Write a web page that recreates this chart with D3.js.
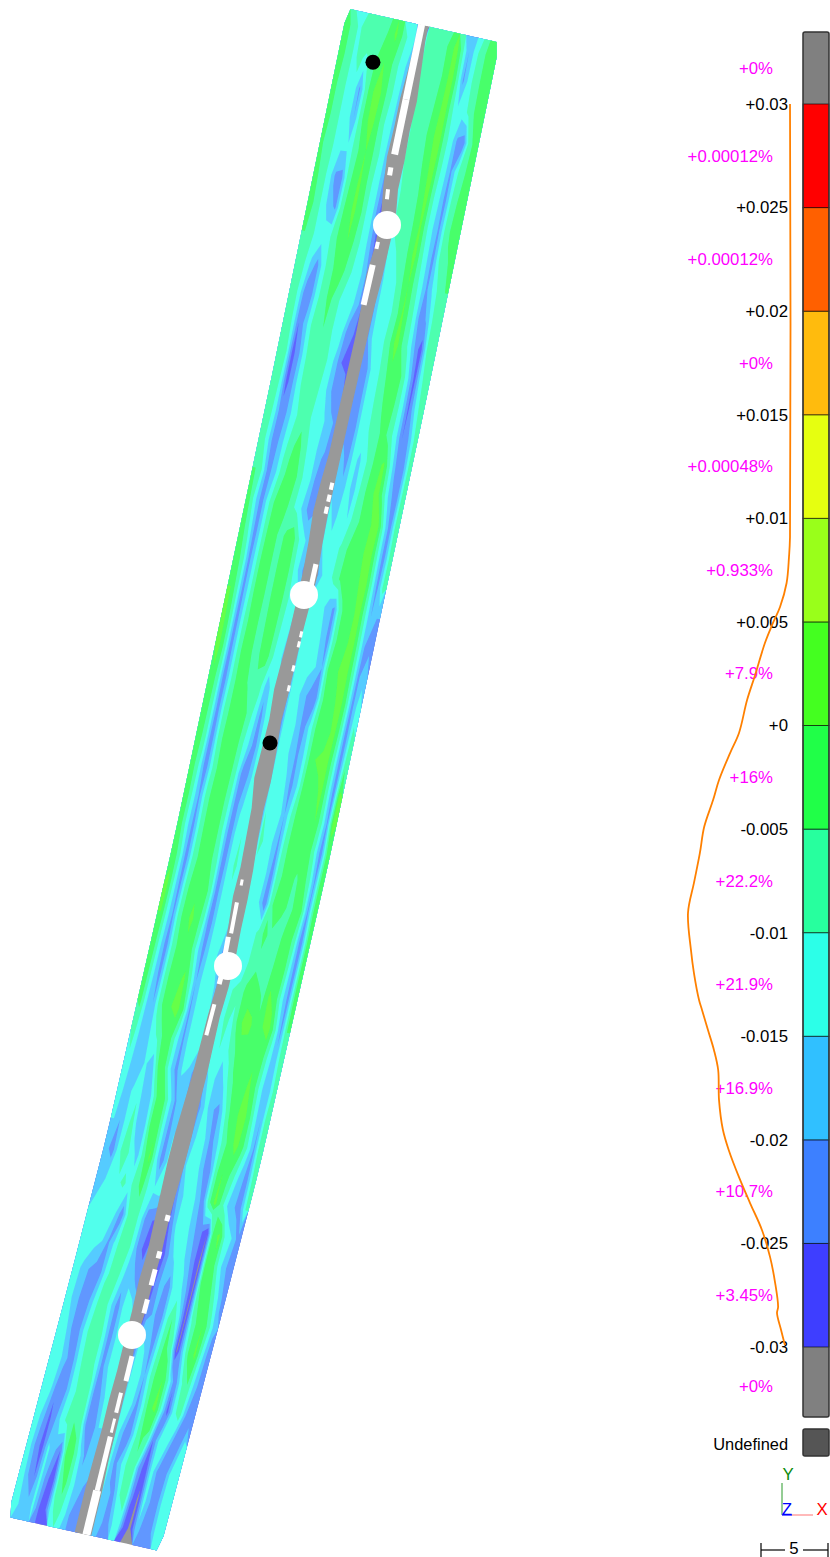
<!DOCTYPE html>
<html>
<head>
<meta charset="utf-8">
<script src="https://cdn.jsdelivr.net/npm/d3@7"></script>
<style>
  body { margin: 0; background: #fff; }
  text { font-family: "Liberation Sans", Arial, sans-serif; font-size: 16.8px; }
</style>
</head>
<body>
<script>
// Colour bar: deviation band edges (bottom to top) and the fill of every band
const tickValues = [0.03, 0.025, 0.02, 0.015, 0.01, 0.005, 0, -0.005, -0.01, -0.015, -0.02, -0.025, -0.03];
const tickLabels = ["+0.03", "+0.025", "+0.02", "+0.015", "+0.01", "+0.005", "+0", "-0.005", "-0.01", "-0.015", "-0.02", "-0.025", "-0.03"];
const bandColors = ["#3e3eff", "#3d80ff", "#30c0ff", "#2cffe8", "#27ff9e", "#20ff48", "#44ff20", "#99ff1a", "#e6ff10", "#ffbb0d", "#ff6000", "#ff0000"];
const outOfRangeColor = "#808080";
const undefinedColor = "#555555";

// Share of points per band, top to bottom, including both outer grey bands
const bandPercents = ["+0%", "+0.00012%", "+0.00012%", "+0%", "+0.00048%", "+0.933%", "+7.9%", "+16%", "+22.2%", "+21.9%", "+16.9%", "+10.7%", "+3.45%", "+0%"];

// Distribution curve next to the bar: deviation (x 0.001) and density (%)
const curveDeviation = [30, 9.1, 8.13, 6.88, 5.72, 4.95, 3.98, 2.44, 1.23, -0.36, -1.33, -2.63, -3.6, -4.9, -6.15, -7.6, -9.05, -10.84, -11.95, -13.25, -13.73, -14.7, -15.66, -16.63, -18.08, -19.5, -20.5, -21.8, -23.05, -24.35, -25.65, -26.9, -28.07, -28.36, -29.18, -29.9];
const curveDensity = [0, 0, 0.24, 0.8, 2.35, 4, 5.9, 8.2, 10.1, 12, 14.1, 16.7, 18.1, 20.2, 21.2, 22.6, 24, 23.3, 22.6, 21.4, 20.7, 19.3, 17.9, 16.9, 16.7, 15.8, 14.4, 12, 9.4, 6.6, 4.7, 3.5, 2.8, 3.06, 2.1, 1.2];

// Deviation over the strip (x 0.001), one row per station, left edge to right edge
const stripUpper = [
  [-3,-7,-11,-8,-6,-9,-8,-3,1,-5,-11,-14,-31,-8,-6,-5,-7,-2,2,-9,-20,-13,-7,-4,-2],
  [-3,-7,-11,-9,-11,-8,-3,0,-3,-9,-12,-18,-31,-9,-7,-6,-7,-3,3,-7,-21,-12,-7,-4,-3],
  [-4,-8,-11,-11,-21,-8,-1,3,-3,-9,-12,-21,-31,-10,-8,-6,-6,-2,3,-8,-14,-13,-8,-4,-3],
  [-4,-8,-11,-12,-20,-8,-1,2,-4,-10,-13,-22,-31,-11,-8,-6,-5,-1,4,-8,-12,-21,-24,-7,-3],
  [-5,-8,-11,-14,-14,-9,-4,0,-4,-9,-14,-22,-31,-11,-8,-7,-6,-2,3,-8,-13,-21,-11,-6,-3],
  [-4,-8,-12,-21,-22,-8,-3,1,-4,-10,-14,-23,-31,-13,-9,-8,-8,-3,2,-9,-14,-22,-10,-5,-3],
  [-3,-8,-12,-18,-21,-7,-2,1,-3,-10,-14,-24,-31,-15,-9,-8,-8,-4,1,-9,-15,-21,-9,-4,-3],
  [-5,-9,-11,-12,-11,-6,-2,0,-5,-10,-14,-22,-31,-21,-12,-10,-9,-4,2,-8,-14,-22,-10,-6,-4],
  [-6,-10,-16,-22,-12,-7,-4,-2,-8,-11,-13,-20,-31,-22,-14,-12,-10,-5,0,-7,-13,-21,-14,-8,-5],
  [-7,-11,-23,-22,-11,-8,-3,-8,-11,-12,-15,-21,-31,-24,-14,-12,-11,-7,1,-6,-12,-24,-19,-9,-6],
  [-6,-11,-25,-18,-10,-8,-5,-9,-11,-13,-23,-25,-31,-23,-15,-13,-10,-5,3,-6,-11,-20,-28,-10,-6],
  [-6,-10,-27,-21,-11,-7,-6,-8,-11,-17,-25,-26,-31,-22,-23,-13,-11,-7,-2,0,-6,-15,-27,-12,-6],
  [-6,-11,-27,-20,-11,-8,-7,-9,-12,-18,-24,-23,-31,-25,-23,-13,-11,-8,-4,-1,-7,-14,-26,-15,-7],
  [-6,-12,-23,-20,-13,-9,-7,-10,-12,-14,-18,-21,-31,-23,-24,-13,-12,-8,-6,-3,-8,-14,-25,-20,-9],
  [-6,-14,-24,-18,-11,-6,-3,-8,-13,-15,-19,-22,-31,-18,-22,-13,-16,-11,-6,-2,1,-10,-21,-24,-9],
  [-5,-10,-22,-18,-9,-4,-2,-6,-12,-15,-23,-21,-31,-16,-19,-13,-17,-10,-5,-1,2,-8,-18,-24,-8],
  [-4,-14,-23,-12,-5,-3,-3,-9,-12,-18,-23,-20,-31,-14,-16,-13,-15,-8,-5,-3,0,3,-11,-23,-7]
];
const stripMiddle = [
  [-3,-11,-23,-12,-4,-2,-7,-4,-1,-9,-14,-18,-31,-15,-14,-13,-9,-5,-4,-3,1,1,-10,-23,-9],
  [-2,-8,-22,-12,-3,-1,-8,-3,0,-8,-15,-22,-31,-23,-15,-13,-8,-4,-3,-2,0,3,-9,-22,-8],
  [0,-8,-22,-12,-3,-1,-8,-3,-1,-8,-12,-15,-31,-12,-12,-13,-18,-21,-6,-3,-1,2,-9,-20,-20],
  [1,-7,-23,-11,-4,-1,-9,-3,-2,-9,-13,-16,-31,-11,-11,-12,-16,-22,-7,-2,-1,3,-8,-20,-21],
  [2,-7,-23,-11,-3,-2,-8,-4,-3,-10,-14,-17,-31,-12,-11,-13,-15,-20,-5,-2,1,2,-7,-21,-17],
  [-1,-8,-24,-11,-4,-1,-6,-6,-9,-18,-12,-15,-31,-12,-13,-18,-22,-23,-6,-2,-1,3,-6,-22,-12],
  [-1,-9,-23,-10,-4,-1,0,-7,-12,-22,-12,-13,-31,-11,-12,-16,-23,-14,-5,-1,-2,2,-7,-23,-9],
  [-2,-9,-24,-10,-3,0,-2,-9,-15,-23,-12,-12,-31,-10,-12,-17,-21,-15,-5,0,1,1,-9,-23,-6],
  [-3,-11,-24,-11,-4,-1,-3,-10,-22,-20,-12,-11,-31,-10,-11,-14,-22,-15,-4,-1,-1,1,-9,-23,1],
  [-2,-12,-21,-9,-3,-1,-4,-11,-23,-16,-11,-10,-31,-10,-12,-11,-20,-10,-3,-2,-2,0,-8,-21,3],
  [-3,-13,-22,-10,-3,-2,-4,-12,-24,-13,-10,-12,-31,-9,-11,-15,-21,-8,-3,-1,-1,-2,-11,-23,-4],
  [-1,-10,-23,-10,-4,-1,-4,-10,-24,-13,-9,-13,-31,-11,-10,-14,-23,-7,-4,-2,-6,-2,-7,-21,-3],
  [1,-11,-22,-8,-2,-1,0,-8,-23,-14,-11,-13,-31,-12,-11,-15,-24,-6,-2,-3,-7,-3,-5,-21,-3],
  [0,-12,-21,-7,-2,1,-2,-10,-24,-14,-11,-14,-31,-13,-12,-14,-8,-4,-6,-9,-4,-1,-9,-24,-5],
  [-2,-13,-23,-9,-3,-1,-3,-13,-22,-14,-12,-20,-31,-12,-11,-12,-8,-6,-9,-7,-3,0,-11,-23,-4],
  [-3,-14,-22,-8,-2,-2,1,-8,-20,-13,-11,-15,-31,-11,-10,-9,-4,-2,-3,-6,1,-2,-13,-22,-4],
  [-4,-15,-20,-8,-2,0,2,-5,-21,-13,-10,-12,-31,-12,-9,-11,-3,2,1,-4,0,2,-8,-21,-5]
];
const stripLower = [
  [-8,-16,-18,-13,-8,-3,-4,-13,-21,-13,-11,-14,-31,-12,-10,-12,-8,-3,-2,-5,-1,-3,-12,-19,-7],
  [-11,-17,-19,-14,-19,-5,-3,-14,-22,-14,-16,-23,-31,-16,-12,-20,-13,-6,-3,-2,1,-5,-14,-20,-9],
  [-13,-18,-14,-11,-20,-15,-4,-2,-12,-21,-15,-24,-31,-21,-13,-19,-22,-12,-4,-1,3,-2,-13,-20,-6],
  [-15,-20,-13,-8,-19,-17,-3,-1,-13,-22,-15,-23,-31,-17,-13,-15,-22,-16,-7,-3,2,-3,-11,-21,-5],
  [-19,-22,-11,-7,-12,-17,-7,1,-12,-23,-14,-18,-31,-15,-12,-14,-21,-20,-6,0,-4,-10,-18,-22,-8],
  [-17,-15,-10,-11,-9,-12,-6,-4,-11,-14,-13,-16,-31,-19,-14,-12,-16,-23,-7,2,-7,-15,-19,-23,-10],
  [-14,-11,-12,-13,-15,-23,-9,-7,-12,-23,-25,-26,-31,-23,-13,-12,-15,-20,-24,-30,-2,1,-12,-15,-22],
  [-14,-12,-13,-15,-21,-14,-7,-6,-13,-24,-26,-22,-31,-27,-19,-13,-13,-17,-24,-31,-3,-1,-11,-19,-22],
  [-13,-16,-20,-22,-21,-11,-8,-10,-17,-16,-23,-22,-31,-24,-17,-24,-12,-13,-20,-31,-6,-1,-5,-13,-21],
  [-12,-18,-21,-23,-15,-8,-7,-15,-23,-13,-11,-19,-31,-22,-19,-25,-12,-5,-14,-31,-11,-4,0,-8,-19],
  [-12,-15,-22,-21,-12,-7,-5,-12,-23,-15,-10,-13,-31,-13,-16,-22,-11,-3,-8,-31,-15,-3,1,-12,-22],
  [-10,-13,-18,-24,-14,-8,-7,-11,-22,-15,-11,-14,-31,-12,-12,-20,-9,-2,0,-11,-24,-11,-5,-15,-23],
  [-11,-14,-24,-25,-15,-10,-7,-9,-23,-20,-13,-15,-31,-11,-13,-22,-12,-1,1,-12,-27,-12,-7,-20,-24],
  [-12,-19,-26,-20,-12,-8,-5,-7,-22,-24,-15,-15,-31,-12,-20,-23,-11,-4,-7,-25,-13,-10,-21,-24,-13],
  [-13,-22,-27,-14,-18,-25,-4,-3,-12,-21,-16,-19,-31,-13,-22,-15,-8,-6,-23,-28,-12,-22,-25,-14,-11],
  [-12,-20,-25,-13,-23,-29,-9,-3,-11,-18,-20,-21,-31,-14,-19,-21,-10,-8,-24,-31,-13,-20,-23,-13,-12],
  [-13,-16,-18,-14,-25,-27,-11,-8,-12,-20,-22,-23,-31,-15,-17,-24,-15,-12,-28,-31,-16,-24,-24,-14,-12]
];

// Grey core along the centre line, offsets from the core line per row
const coreLeft = [-5,-6,-8,-8,-9,-8,-7,-7,-9,-7,-6,-6,-6,-6,-6,-8,-9,-7,-6,-6,-6,-7,-8,-6,-7,-9,-6,-6,-6,-8,-7,-7,-6,-7,-7,-7,-8,-9,-9,-8,-7,-6,-7,-6,-6,-6,-7,-7,-8,-9,-9];
const coreRight = [5,7,9,8,9,7,8,7,7,6,6,6,6,6,6,6,6,7,9,8,7,7,7,6,8,8,6,6,7,7,6,6,6,5,6,7,7,8,8,7,7,8,7,7,5,7,7,7,7,8,8];

// Undefined runs inside the core: station from/to, offset from the core line, width
const voidFrom = [25, 100, 168, 190, 243, 266, 482, 494, 506, 563, 630, 640, 664, 684, 880, 903, 938, 976, 1005, 1214, 1250, 1268, 1298, 1355, 1392, 1418, 1436, 1490];
const voidTo = [100, 155, 176, 200, 250, 306, 489, 501, 513, 590, 636, 646, 670, 690, 886, 934, 956, 985, 1036, 1220, 1257, 1284, 1312, 1380, 1412, 1432, 1490, 1534];
const voidOffset = [-2, -2, -3, -3, -5, -5, 3.5, 3.5, 3.5, 5, 6, 6, 6, 6, -2, -3, -5, -4, -3.5, 5, 6, 6, 6, 5, 3, 3, 3, 3];
const voidWidth = [7, 7, 5, 4, 4, 6, 4, 4, 4, 5, 3, 3, 3, 3, 3, 4, 5, 5, 4, 5, 5, 5, 5, 5, 4, 3, 5, 8];

// Reference targets: station and offset from the core line
const holeStations = [225, 595, 966, 1335];
const holeOffsets = [0, 0, 0, 0];
const dotStations = [71.4, 743];
const dotOffsets = [-42, 0];

// Set up the page
const width = 830, height = 1557;
const svg = d3.select("body").append("svg")
    .attr("width", width)
    .attr("height", height)
    .style("display", "block");

// Strip geometry: a gently bent spine with a constant cross direction,
// and the slightly wandering line of the central core
const spineStations = [25.5, 400, 850, 1150, 1300, 1534];
const spineXs = [423.6, 346.5, 251.5, 183.5, 145, 83.5];
const spineX = d3.scaleLinear().domain(spineStations).range(spineXs);
const coreStationsKnown = [25.5, 172, 225, 400, 595, 743, 966, 1150, 1335, 1534];
const coreXs = [423.5, 393, 387, 347, 304, 270, 228, 180, 132, 83.5];
const coreX = d3.scaleLinear().domain(coreStationsKnown).range(coreXs);
const crossX = 0.976, crossY = 0.219;

const stripRows = stripUpper.concat(stripMiddle, stripLower);
const rowCount = stripRows.length, colCount = stripRows[0].length;
const stationScale = d3.scaleLinear().domain([0, rowCount]).range([25.5, 1534]);
const acrossScale = d3.scaleLinear().domain([0, colCount]).range([-78, 78]);

const stripY = (station, offset) => station + offset * crossY;
const coreXAt = (station, offset) => coreX(station) + offset * crossX;

const stripProjection = d3.geoTransform({
  point(col, row) {
    const station = stationScale(row), offset = acrossScale(col);
    this.stream.point(spineX(station) + offset * crossX, stripY(station, offset));
  }
});
const stripPath = d3.geoPath(stripProjection);

// Soft edges like the rendered mesh
svg.append("defs").append("filter")
    .attr("id", "soft")
    .append("feGaussianBlur")
    .attr("stdDeviation", 0.7);

const bandEdges = tickValues.slice().reverse().map(d => Math.round(d * 1000));
const contourValues = [-100].concat(bandEdges.slice(0, -1));
const contourColors = [outOfRangeColor].concat(bandColors);
const contours = d3.contours()
    .size([colCount, rowCount])
    .thresholds(contourValues)(stripRows.flat());

const stripLayer = svg.append("g").attr("filter", "url(#soft)");

stripLayer.append("g")
    .attr("opacity", 0.82)
    .selectAll("path")
    .data(contours)
    .join("path")
    .attr("d", stripPath)
    .attr("fill", (d, i) => contourColors[i]);

// Grey core
const coreStations = [25.5].concat(coreLeft.map((d, i) => stationScale(i + 0.5)), [1534]);
const coreAt = arr => [arr[0]].concat(arr, [arr[arr.length - 1]]);
const leftPts = coreAt(coreLeft).map((d, i) => [coreXAt(coreStations[i], d), stripY(coreStations[i], d)]);
const rightPts = coreAt(coreRight).map((d, i) => [coreXAt(coreStations[i], d), stripY(coreStations[i], d)]);
stripLayer.append("path")
    .attr("d", d3.line()(leftPts.concat(rightPts.reverse())) + "Z")
    .attr("fill", "#999999");

// Undefined runs
stripLayer.append("g")
    .selectAll("line")
    .data(voidFrom)
    .join("line")
    .attr("x1", (d, i) => coreXAt(d, voidOffset[i]))
    .attr("y1", (d, i) => stripY(d, voidOffset[i]))
    .attr("x2", (d, i) => coreXAt(voidTo[i], voidOffset[i]))
    .attr("y2", (d, i) => stripY(voidTo[i], voidOffset[i]))
    .attr("stroke", "#fff")
    .attr("stroke-width", (d, i) => voidWidth[i]);

// Targets
svg.append("g")
    .selectAll("circle")
    .data(holeStations)
    .join("circle")
    .attr("cx", (d, i) => coreXAt(d, holeOffsets[i]))
    .attr("cy", (d, i) => stripY(d, holeOffsets[i]))
    .attr("r", 14)
    .attr("fill", "#fff");

svg.append("g")
    .selectAll("circle")
    .data(dotStations)
    .join("circle")
    .attr("cx", (d, i) => coreXAt(d, dotOffsets[i]))
    .attr("cy", (d, i) => stripY(d, dotOffsets[i]))
    .attr("r", 7.5)
    .attr("fill", "#000");

// Colour bar
const devY = d3.scaleLinear().domain([-0.03, 0.03]).range([1347, 104]);
const barX = 803, barW = 26, barTop = 32, barBottom = 1417;

const bar = svg.append("g");
bar.append("rect")
    .attr("x", barX).attr("y", barTop)
    .attr("width", barW).attr("height", barBottom - barTop)
    .attr("fill", outOfRangeColor);

bar.selectAll(".band")
    .data(bandColors)
    .join("rect")
    .attr("class", "band")
    .attr("x", barX)
    .attr("width", barW)
    .attr("y", (d, i) => devY((bandEdges[i + 1]) / 1000))
    .attr("height", (d, i) => devY(bandEdges[i] / 1000) - devY(bandEdges[i + 1] / 1000))
    .attr("fill", d => d)
    .attr("stroke", "#000")
    .attr("stroke-opacity", 0.6)
    .attr("stroke-width", 1);

bar.append("rect")
    .attr("x", barX).attr("y", barTop)
    .attr("width", barW).attr("height", barBottom - barTop)
    .attr("rx", 2)
    .attr("fill", "none")
    .attr("stroke", "#333")
    .attr("stroke-width", 1.5);

// Tick labels
const yAxis = svg.append("g")
    .attr("transform", "translate(788,0)")
    .call(d3.axisLeft(devY).tickValues(tickValues).tickSize(0).tickPadding(0)
        .tickFormat((d, i) => tickLabels[i]));
yAxis.select(".domain").remove();
yAxis.attr("font-family", null).attr("font-size", null);
yAxis.selectAll("text").attr("fill", "#000");

// Percent labels, centred in their bands
const bandCentres = [(barTop + devY(0.03)) / 2]
    .concat(d3.pairs(tickValues).map(p => (devY(p[0]) + devY(p[1])) / 2))
    .concat([(devY(-0.03) + barBottom) / 2 + 4]);

svg.append("g")
    .selectAll("text")
    .data(bandPercents)
    .join("text")
    .attr("x", 773)
    .attr("y", (d, i) => bandCentres[i])
    .attr("dy", "0.34em")
    .attr("text-anchor", "end")
    .attr("fill", "#ff00ff")
    .text(d => d);

// Distribution curve
const densityX = d3.scaleLinear().domain([0, 24]).range([790, 688]);
const curveLine = d3.line()
    .x((d, i) => densityX(curveDensity[i]))
    .y(d => devY(d / 1000))
    .curve(d3.curveCatmullRom.alpha(0.5));

svg.append("path")
    .datum(curveDeviation)
    .attr("d", curveLine)
    .attr("fill", "none")
    .attr("stroke", "#ff8000")
    .attr("stroke-width", 1.8);

// Undefined swatch
svg.append("rect")
    .attr("x", barX).attr("y", 1429)
    .attr("width", barW).attr("height", 27)
    .attr("rx", 2)
    .attr("fill", undefinedColor)
    .attr("stroke", "#333")
    .attr("stroke-width", 1.5);
svg.append("text")
    .attr("x", 788).attr("y", 1444)
    .attr("dy", "0.34em")
    .attr("text-anchor", "end")
    .style("font-size", "16.4px")
    .text("Undefined");

// Axis triad
const triad = svg.append("g");
triad.append("line").attr("x1", 782).attr("y1", 1515).attr("x2", 782).attr("y2", 1483).attr("stroke", "#2a9a2a").attr("stroke-width", 1);
triad.append("line").attr("x1", 792).attr("y1", 1515).attr("x2", 813).attr("y2", 1515).attr("stroke", "#ff8a8a").attr("stroke-width", 1.2);
triad.append("line").attr("x1", 782).attr("y1", 1515).attr("x2", 792).attr("y2", 1515).attr("stroke", "#0000ff").attr("stroke-width", 1.2);
triad.append("text").attr("x", 788).attr("y", 1474).attr("dy", "0.36em").attr("text-anchor", "middle").attr("fill", "#0a8a0a").text("Y");
triad.append("text").attr("x", 787).attr("y", 1509).attr("dy", "0.36em").attr("text-anchor", "middle").attr("fill", "#0000ff").text("Z");
triad.append("text").attr("x", 822).attr("y", 1509).attr("dy", "0.36em").attr("text-anchor", "middle").attr("fill", "#ff0000").text("X");

// Scale bar
const scaleLabel = "5";
const scaleBar = svg.append("g").attr("stroke", "#000").attr("stroke-width", 1.2);
scaleBar.append("line").attr("x1", 761).attr("y1", 1550).attr("x2", 785).attr("y2", 1550);
scaleBar.append("line").attr("x1", 803).attr("y1", 1550).attr("x2", 828).attr("y2", 1550);
scaleBar.append("line").attr("x1", 761).attr("y1", 1543).attr("x2", 761).attr("y2", 1557);
scaleBar.append("line").attr("x1", 828).attr("y1", 1543).attr("x2", 828).attr("y2", 1557);
svg.append("text")
    .attr("x", 794).attr("y", 1548)
    .attr("dy", "0.36em")
    .attr("text-anchor", "middle")
    .text(scaleLabel);
</script>
</body>
</html>
